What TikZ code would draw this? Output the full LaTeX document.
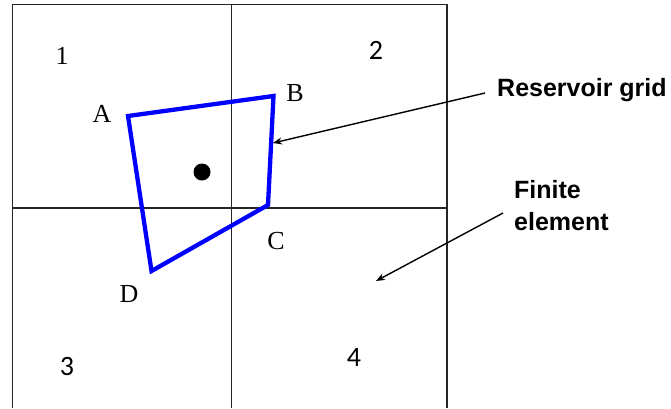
\documentclass[tikz,border=0pt]{standalone}
\usepackage{fontspec}
\setmainfont{Liberation Serif}
\newfontfamily\labsans{Liberation Sans}
\newfontfamily\digsans{Carlito}
\usetikzlibrary{arrows.meta}
\begin{document}
\begin{tikzpicture}[x=1pt,y=-1pt,
  gridline/.style={line width=1.4pt,draw=black!85},
  poly/.style={line width=4.3pt,draw=blue,line join=miter},
  ptlabel/.style={inner sep=0pt,font=\fontsize{26}{26}\selectfont},
  celllabel/.style={inner sep=0pt,font=\digsans\fontsize{28}{28}\selectfont},
  calllabel/.style={inner sep=0pt,font=\labsans\bfseries\fontsize{25}{32}\selectfont,align=left},
  callarrow/.style={line width=1.4pt,-{Stealth[length=9pt,width=7pt]}}]
\useasboundingbox (0,0) rectangle (671,408);
% grid
\coordinate (g1) at (12.5,408);
\coordinate (g2) at (12.5,4.5);
\coordinate (g3) at (447,4.5);
\coordinate (g4) at (447,408);
\draw[gridline] (g1) -- (g2) -- (g3) -- (g4);
\coordinate (vt) at (231.5,4.5);
\coordinate (vb) at (231.5,408);
\draw[gridline] (vt) -- (vb);
\coordinate (hl) at (12.5,208);
\coordinate (hr) at (447,208);
\draw[gridline] (hl) -- (hr);
% cell labels
\node[ptlabel] (n1) at (62,56) {1};
\node[celllabel] (n2) at (376,50) {2};
\node[celllabel] (n3) at (67,367) {3};
\node[celllabel] (n4) at (354,358) {4};
% polygon
\coordinate (A) at (128,116);
\coordinate (B) at (273.5,96);
\coordinate (C) at (268,205);
\coordinate (D) at (151.5,271);
\draw[poly] (A) -- (B) -- (C) -- (D) -- cycle;
\node[ptlabel] (lA) at (102,114) {A};
\node[ptlabel] (lB) at (295,93) {B};
\node[ptlabel] (lC) at (276,241) {C};
\node[ptlabel] (lD) at (129,294) {D};
% dot
\fill (202,172) circle (8.5) coordinate (dot);
% callouts
\node[calllabel,anchor=west] (rg) at (497,90) {Reservoir grid};
\node[calllabel,anchor=north west] (fe) at (514,180) {Finite\\element};
\coordinate (a1s) at (485,93);
\coordinate (a1e) at (273,143);
\draw[callarrow] (a1s) -- (a1e);
\coordinate (a2s) at (503,213);
\coordinate (a2e) at (376,281);
\draw[callarrow] (a2s) -- (a2e);
\end{tikzpicture}
\end{document}
